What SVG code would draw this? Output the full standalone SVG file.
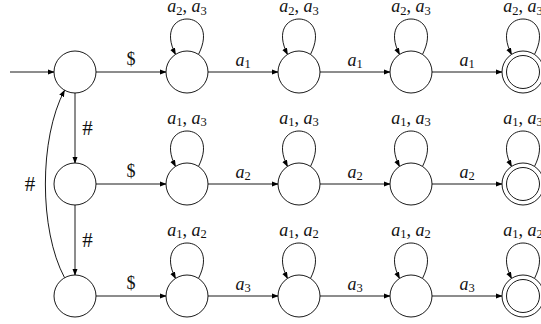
<svg xmlns="http://www.w3.org/2000/svg" width="541" height="324" viewBox="0 0 541 324">
  <style>
    .st { fill: #fff; stroke: #000; stroke-width: 0.9; }
    .ed { fill: none; stroke: #000; stroke-width: 0.9; marker-end: url(#arr); }
    .t { font-family: "Liberation Serif", "DejaVu Serif", serif; font-size: 18px; fill: #111; text-anchor: middle; }
    .h { font-size: 21px; }
    .i { font-style: italic; }
    .s { font-size: 12.5px; }
  </style>
  <defs>
    <marker id="arr" markerUnits="userSpaceOnUse" markerWidth="8" markerHeight="6" refX="6.3" refY="2.6" orient="auto">
      <path d="M0,0 L7,2.6 L0,5.2 z" fill="#000"/>
    </marker>
  </defs>

  <!-- transitions -->
  <g id="connectors">
    <!-- start arrow -->
    <path class="ed" d="M10,72 H54"/>
    <!-- # chain between the three entry states -->
    <path class="ed" d="M75,93 V163"/>
    <path class="ed" d="M75,205 V275"/>
    <path class="ed" d="M64.5,277.6 C39,230 39,138 64.5,90.4"/>
    <!-- row 1 -->
    <path class="ed" d="M96,72 H166"/>
    <path class="ed" d="M208,72 H278"/>
    <path class="ed" d="M320,72 H390"/>
    <path class="ed" d="M432,72 H502"/>
    <!-- row 2 -->
    <path class="ed" d="M96,184 H166"/>
    <path class="ed" d="M208,184 H278"/>
    <path class="ed" d="M320,184 H390"/>
    <path class="ed" d="M432,184 H502"/>
    <!-- row 3 -->
    <path class="ed" d="M96,296 H166"/>
    <path class="ed" d="M208,296 H278"/>
    <path class="ed" d="M320,296 H390"/>
    <path class="ed" d="M432,296 H502"/>
    <!-- self loops -->
    <path class="ed" d="M198.5,54.4 C222.4,7.2 151.6,7.2 175.5,54.4"/>
    <path class="ed" d="M310.5,54.4 C334.4,7.2 263.6,7.2 287.5,54.4"/>
    <path class="ed" d="M422.5,54.4 C446.4,7.2 375.6,7.2 399.5,54.4"/>
    <path class="ed" d="M534.5,54.4 C558.4,7.2 487.6,7.2 511.5,54.4"/>
    <path class="ed" d="M198.5,166.4 C222.4,119.2 151.6,119.2 175.5,166.4"/>
    <path class="ed" d="M310.5,166.4 C334.4,119.2 263.6,119.2 287.5,166.4"/>
    <path class="ed" d="M422.5,166.4 C446.4,119.2 375.6,119.2 399.5,166.4"/>
    <path class="ed" d="M534.5,166.4 C558.4,119.2 487.6,119.2 511.5,166.4"/>
    <path class="ed" d="M198.5,278.4 C222.4,231.2 151.6,231.2 175.5,278.4"/>
    <path class="ed" d="M310.5,278.4 C334.4,231.2 263.6,231.2 287.5,278.4"/>
    <path class="ed" d="M422.5,278.4 C446.4,231.2 375.6,231.2 399.5,278.4"/>
    <path class="ed" d="M534.5,278.4 C558.4,231.2 487.6,231.2 511.5,278.4"/>

    <!-- edge labels -->
    <text class="t h" x="87.5" y="135">#</text>
    <text class="t h" x="87.5" y="247">#</text>
    <text class="t h" x="30" y="191">#</text>

    <text class="t" x="131" y="65">$</text>
    <text class="t" x="131" y="177">$</text>
    <text class="t" x="131" y="289">$</text>

    <text class="t" x="243" y="65.5"><tspan class="i">a</tspan><tspan class="s" dy="2.5">1</tspan></text>
    <text class="t" x="355" y="65.5"><tspan class="i">a</tspan><tspan class="s" dy="2.5">1</tspan></text>
    <text class="t" x="467" y="65.5"><tspan class="i">a</tspan><tspan class="s" dy="2.5">1</tspan></text>
    <text class="t" x="243" y="177.5"><tspan class="i">a</tspan><tspan class="s" dy="2.5">2</tspan></text>
    <text class="t" x="355" y="177.5"><tspan class="i">a</tspan><tspan class="s" dy="2.5">2</tspan></text>
    <text class="t" x="467" y="177.5"><tspan class="i">a</tspan><tspan class="s" dy="2.5">2</tspan></text>
    <text class="t" x="243" y="289.5"><tspan class="i">a</tspan><tspan class="s" dy="2.5">3</tspan></text>
    <text class="t" x="355" y="289.5"><tspan class="i">a</tspan><tspan class="s" dy="2.5">3</tspan></text>
    <text class="t" x="467" y="289.5"><tspan class="i">a</tspan><tspan class="s" dy="2.5">3</tspan></text>

    <!-- loop labels -->
    <text class="t" x="187" y="12"><tspan class="i">a</tspan><tspan class="s" dy="2.5">2</tspan><tspan dy="-2.5">, </tspan><tspan class="i">a</tspan><tspan class="s" dy="2.5">3</tspan></text>
    <text class="t" x="299" y="12"><tspan class="i">a</tspan><tspan class="s" dy="2.5">2</tspan><tspan dy="-2.5">, </tspan><tspan class="i">a</tspan><tspan class="s" dy="2.5">3</tspan></text>
    <text class="t" x="411" y="12"><tspan class="i">a</tspan><tspan class="s" dy="2.5">2</tspan><tspan dy="-2.5">, </tspan><tspan class="i">a</tspan><tspan class="s" dy="2.5">3</tspan></text>
    <text class="t" x="523" y="12"><tspan class="i">a</tspan><tspan class="s" dy="2.5">2</tspan><tspan dy="-2.5">, </tspan><tspan class="i">a</tspan><tspan class="s" dy="2.5">3</tspan></text>
    <text class="t" x="187" y="123.5"><tspan class="i">a</tspan><tspan class="s" dy="2.5">1</tspan><tspan dy="-2.5">, </tspan><tspan class="i">a</tspan><tspan class="s" dy="2.5">3</tspan></text>
    <text class="t" x="299" y="123.5"><tspan class="i">a</tspan><tspan class="s" dy="2.5">1</tspan><tspan dy="-2.5">, </tspan><tspan class="i">a</tspan><tspan class="s" dy="2.5">3</tspan></text>
    <text class="t" x="411" y="123.5"><tspan class="i">a</tspan><tspan class="s" dy="2.5">1</tspan><tspan dy="-2.5">, </tspan><tspan class="i">a</tspan><tspan class="s" dy="2.5">3</tspan></text>
    <text class="t" x="523" y="123.5"><tspan class="i">a</tspan><tspan class="s" dy="2.5">1</tspan><tspan dy="-2.5">, </tspan><tspan class="i">a</tspan><tspan class="s" dy="2.5">3</tspan></text>
    <text class="t" x="187" y="235.5"><tspan class="i">a</tspan><tspan class="s" dy="2.5">1</tspan><tspan dy="-2.5">, </tspan><tspan class="i">a</tspan><tspan class="s" dy="2.5">2</tspan></text>
    <text class="t" x="299" y="235.5"><tspan class="i">a</tspan><tspan class="s" dy="2.5">1</tspan><tspan dy="-2.5">, </tspan><tspan class="i">a</tspan><tspan class="s" dy="2.5">2</tspan></text>
    <text class="t" x="411" y="235.5"><tspan class="i">a</tspan><tspan class="s" dy="2.5">1</tspan><tspan dy="-2.5">, </tspan><tspan class="i">a</tspan><tspan class="s" dy="2.5">2</tspan></text>
    <text class="t" x="523" y="235.5"><tspan class="i">a</tspan><tspan class="s" dy="2.5">1</tspan><tspan dy="-2.5">, </tspan><tspan class="i">a</tspan><tspan class="s" dy="2.5">2</tspan></text>
  </g>

  <!-- states -->
  <g id="q0"><circle class="st" cx="75" cy="72" r="21"/></g>
  <g id="q1"><circle class="st" cx="75" cy="184" r="21"/></g>
  <g id="q2"><circle class="st" cx="75" cy="296" r="21"/></g>

  <g id="p11"><circle class="st" cx="187" cy="72" r="21"/></g>
  <g id="p12"><circle class="st" cx="299" cy="72" r="21"/></g>
  <g id="p13"><circle class="st" cx="411" cy="72" r="21"/></g>
  <g id="p14"><circle class="st" cx="523" cy="72" r="21"/><circle class="st" cx="523" cy="72" r="16.5"/></g>

  <g id="p21"><circle class="st" cx="187" cy="184" r="21"/></g>
  <g id="p22"><circle class="st" cx="299" cy="184" r="21"/></g>
  <g id="p23"><circle class="st" cx="411" cy="184" r="21"/></g>
  <g id="p24"><circle class="st" cx="523" cy="184" r="21"/><circle class="st" cx="523" cy="184" r="16.5"/></g>

  <g id="p31"><circle class="st" cx="187" cy="296" r="21"/></g>
  <g id="p32"><circle class="st" cx="299" cy="296" r="21"/></g>
  <g id="p33"><circle class="st" cx="411" cy="296" r="21"/></g>
  <g id="p34"><circle class="st" cx="523" cy="296" r="21"/><circle class="st" cx="523" cy="296" r="16.5"/></g>
</svg>
